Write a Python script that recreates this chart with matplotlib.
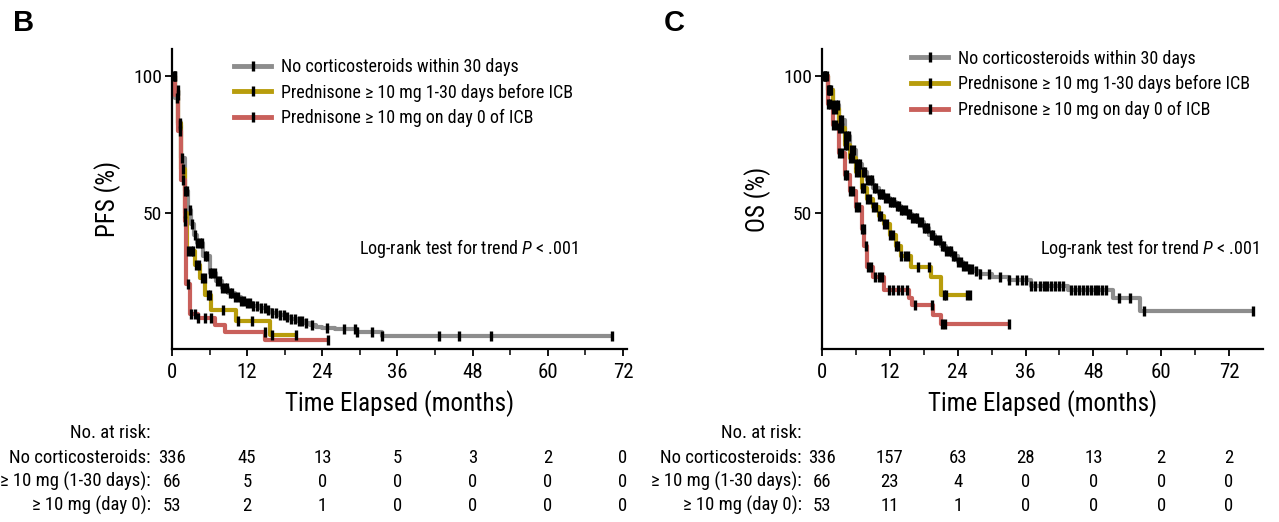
import numpy as np
import matplotlib
matplotlib.use("Agg")
import matplotlib.pyplot as plt
from matplotlib.lines import Line2D
from matplotlib.transforms import blended_transform_factory

FONT = ['Roboto Condensed', 'Liberation Sans Narrow', 'Roboto', 'DejaVu Sans']
plt.rcParams['font.family'] = FONT
plt.rcParams['mathtext.fontset'] = 'custom'
plt.rcParams['mathtext.rm'] = 'Roboto Condensed'
plt.rcParams['mathtext.it'] = 'Roboto Condensed:italic'

# ---- Kaplan-Meier step data (months, survival %) ----
# PFS
pfs_none_t = [0, 0.5, 1, 1.5, 2, 2.5, 3, 3.5, 4, 5, 6, 7, 8, 9, 10, 11, 12, 13, 14, 15, 16, 17,
              18, 19, 20, 21, 22, 23, 24, 26, 29.5, 33.6]
pfs_none_s = [100, 92, 82, 70, 58, 51, 46, 42, 39, 34, 28, 25, 22.5, 20.5, 19, 17.8, 16.8, 16,
              15.2, 14.3, 13.4, 12.6, 11.8, 11, 10.3, 9.6, 9, 8.2, 7.6, 7.4, 6.3, 5.0]
pfs_none_end = 70.2
pfs_none_cens = [0.3, 0.8, 1.2, 1.6, 2.0, 2.4, 2.8, 3.2, 3.6, 4.0, 4.4, 4.8, 5.2, 5.6, 6.0, 6.4,
                 6.8, 7.2, 7.6, 8.0, 8.4, 8.8, 9.2, 9.6, 10.0, 10.5, 11.0, 11.5, 12.0, 12.5, 13.0,
                 13.6, 14.2, 14.8, 15.4, 16.0, 16.6, 17.2, 17.8, 18.4, 19.0, 19.6, 20.2, 20.8,
                 21.4, 22.4, 24.8, 27.5, 29.2, 29.5, 32.0, 33.6, 42.6, 45.8, 51.0, 70.2]

pfs_pre_t = [0, 0.5, 1, 1.5, 2, 2.4, 3.7, 4.5, 5.3, 6.2, 10.2, 15.7]
pfs_pre_s = [100, 95, 83, 66, 50, 36, 31, 26, 20, 14.3, 10.4, 5.2]
pfs_pre_end = 19.8
pfs_pre_cens = [0.4, 0.9, 1.3, 1.7, 2.1, 2.6, 3.0, 3.4, 3.9, 4.3, 4.8, 5.2, 5.7, 6.1, 8.2,
                10.5, 12.8, 15.9, 19.8]

pfs_day0_t = [0, 0.5, 1, 1.5, 2, 2.2, 2.3, 2.9, 4.1, 6.9, 8.5, 14.9]
pfs_day0_s = [100, 93, 80, 62, 47, 33, 24, 13, 11.5, 8.8, 6.4, 3.3]
pfs_day0_end = 24.9
pfs_day0_cens = [0.4, 0.9, 1.3, 1.7, 2.1, 2.5, 3.0, 3.6, 4.2, 5.3, 6.3, 14.8, 24.9]

# OS
os_none_t = [0, 1, 2, 3, 4, 5, 6, 7, 8, 9, 10, 11, 12, 13, 14, 15, 16, 17, 18, 19, 20, 21, 22,
             23, 24, 25, 26, 27, 28, 30, 33, 37, 43.5, 51.5, 56.3]
os_none_s = [100, 95, 89.5, 84, 78, 73, 68, 65, 62, 59, 57, 55.5, 54, 52.5, 51, 49.5, 48, 46.5,
             44.5, 42, 40, 38, 36, 34, 32, 30.5, 29.5, 28.5, 27.5, 26.5, 25.4, 23.2, 21.7,
             18.6, 14.0]
os_none_end = 76.2
os_none_cens = [0.4, 0.8, 1.2, 1.6, 2.0, 2.4, 2.8, 3.2, 3.6, 4.0, 4.4, 4.8, 5.2, 5.6, 6.0, 6.4,
                6.8, 7.2, 7.6, 8.0, 8.4, 8.8, 9.2, 9.6, 10.0, 10.4, 10.8, 11.2, 11.6, 12.0, 12.4,
                12.8, 13.2, 13.6, 14.0, 14.4, 14.8, 15.2, 15.6, 16.0, 16.4, 16.8, 17.2, 17.6,
                18.0, 18.4, 18.8, 19.2, 19.6, 20.0, 20.4, 20.8, 21.2, 21.6, 22.0, 22.4, 22.8,
                23.2, 23.6, 24.0, 24.5, 25.0, 25.5, 26.0, 26.6, 27.3, 28.0, 29.5, 31.5, 33.0,
                34.5, 35.3, 36.0, 37.0, 37.6, 38.5, 39.2, 39.8, 40.5, 41.2, 41.9, 42.6, 44.0,
                44.7, 45.4, 46.1, 46.8, 47.5, 48.2, 48.8, 49.5, 50.2, 52.5, 54.5, 56.9, 76.2]

os_pre_t = [0, 1, 2, 3, 4, 5, 6, 7, 8, 9, 10, 11, 12, 13, 14, 15.7, 19.3, 21.1]
os_pre_s = [100, 95, 88, 81, 75, 70, 65, 59, 55, 52, 49, 46, 42, 38, 34, 30.3, 26.6, 19.9]
os_pre_end = 26.2
os_pre_cens = [0.5, 1.0, 1.5, 2.0, 2.5, 3.0, 3.5, 4.0, 4.5, 5.0, 5.5, 6.0, 6.5, 7.0, 7.5, 8.0,
               8.5, 9.0, 9.5, 10.0, 10.5, 11.0, 11.5, 12.0, 12.5, 13.0, 13.5, 14.0, 14.6, 15.2,
               17.0, 19.0, 21.5, 22.0, 25.6, 26.2]

os_day0_t = [0, 1, 2, 3, 4, 5, 6, 7, 7.5, 8, 9, 11, 15.3, 16, 19.7, 21.1]
os_day0_s = [100, 90, 82, 72, 64, 58, 52, 44, 38, 30.3, 26.6, 21.7, 18.6, 16.2, 12.5, 9.4]
os_day0_end = 33.1
os_day0_cens = [0.5, 1.0, 1.5, 2.0, 2.5, 3.0, 3.5, 4.0, 4.5, 5.0, 5.5, 6.0, 6.5, 7.0, 7.4, 7.8,
                8.2, 8.7, 9.3, 10.0, 10.6, 11.8, 12.6, 13.4, 14.2, 15.0, 16.4, 19.5, 21.2, 21.8,
                33.1]

# ---- numbers at risk ----
risk_times = [0, 12, 24, 36, 48, 60, 72]
risk_labels = ["No corticosteroids:", "\u2265 10 mg (1-30 days):", "\u2265 10 mg (day 0):"]
pfs_risk = [[336, 45, 13, 5, 3, 2, 0],
            [66, 5, 0, 0, 0, 0, 0],
            [53, 2, 1, 0, 0, 0, 0]]
os_risk = [[336, 157, 63, 28, 13, 2, 2],
           [66, 23, 4, 0, 0, 0, 0],
           [53, 11, 1, 0, 0, 0, 0]]

group_names = ["No corticosteroids within 30 days",
               "Prednisone \u2265 10 mg 1-30 days before ICB",
               "Prednisone \u2265 10 mg on day 0 of ICB"]
colors = ["#8d8d8d", "#b89d0c", "#c9605b"]


def km_curve(ax, t, s, end, cens, color):
    tt = list(t) + [end]
    ss = list(s) + [s[-1]]
    ax.step(tt, ss, where='post', color=color, lw=3, solid_capstyle='butt', zorder=2)
    idx = np.searchsorted(t, cens, side='right') - 1
    cy = np.array(s)[idx]
    ax.plot(cens, cy, ls='none', marker='|', color='black', ms=6.5, mew=2.4, zorder=3)


fig = plt.figure(figsize=(12.79, 5.22), dpi=100)
axB = fig.add_axes([0.1345, 0.331, 0.356, 0.575])
axC = fig.add_axes([0.6427, 0.331, 0.3448, 0.575])

panels = [
    dict(ax=axB, ylab="PFS (%)", xmax=72.7, letter="B", letter_x=0.010,
         curves=[(pfs_none_t, pfs_none_s, pfs_none_end, pfs_none_cens),
                 (pfs_pre_t, pfs_pre_s, pfs_pre_end, pfs_pre_cens),
                 (pfs_day0_t, pfs_day0_s, pfs_day0_end, pfs_day0_cens)],
         risk=pfs_risk, leg_x=0.183, leg_y=0.889, risk_x=0.118, lr_x=47.4),
    dict(ax=axC, ylab="OS (%)", xmax=78, letter="C", letter_x=0.519,
         curves=[(os_none_t, os_none_s, os_none_end, os_none_cens),
                 (os_pre_t, os_pre_s, os_pre_end, os_pre_cens),
                 (os_day0_t, os_day0_s, os_day0_end, os_day0_cens)],
         risk=os_risk, leg_x=0.7125, leg_y=0.905, risk_x=0.627, lr_x=58.0),
]

for p in panels:
    ax = p['ax']
    for (t, s, end, cens), c in zip(p['curves'], colors):
        km_curve(ax, t, s, end, cens, c)

    ax.set_xlim(0, p['xmax'])
    ax.set_ylim(0, 110)
    ax.set_xticks(risk_times)
    ax.set_xticks([m for m in [6, 18, 30, 42, 54, 66, 78] if m < p['xmax']], minor=True)
    ax.set_yticks([50, 100])
    for side in ["top", "right"]:
        ax.spines[side].set_visible(False)
    for side in ["left", "bottom"]:
        ax.spines[side].set_linewidth(1.6)
    ax.tick_params(axis='both', which='major', direction='out', length=5, width=1.3)
    ax.tick_params(axis='x', which='minor', direction='out', length=4, width=1.1)
    ax.tick_params(axis='x', labelsize=15, pad=5)
    ax.tick_params(axis='y', labelsize=14, pad=2)
    ax.set_ylabel(p['ylab'], fontsize=18, labelpad=9)
    ax.set_xlabel("Time Elapsed (months)", fontsize=18, labelpad=6)

    ax.text(p['lr_x'], 0.337, "Log-rank test for trend $\\mathit{P}$ < .001",
            transform=blended_transform_factory(ax.transData, ax.transAxes),
            ha='center', va='center', fontsize=13)

    handles = [Line2D([0], [0], color=c, lw=3.5, marker='|', mec='black', mew=2.4, ms=6.5)
               for c in colors]
    fig.legend(handles, group_names, loc='upper left', bbox_to_anchor=(p['leg_x'], p['leg_y']),
               frameon=False, fontsize=13, numpoints=1, handlelength=2.05,
               handletextpad=0.55, labelspacing=0.42, borderaxespad=0, borderpad=0)

    fig.text(p['letter_x'], 0.955, p['letter'], fontsize=21, fontweight='bold',
             family=['Liberation Sans', 'DejaVu Sans'], ha='left', va='center')

    # at-risk table under the x axis
    tr = blended_transform_factory(ax.transData, fig.transFigure)
    fig.text(p['risk_x'], 0.171, "No. at risk:", ha='right', va='center', fontsize=13.5)
    rows_y = [0.123, 0.077, 0.031]
    for lab, vals, yy in zip(risk_labels, p['risk'], rows_y):
        fig.text(p['risk_x'], yy, lab, ha='right', va='center', fontsize=13.5)
        for xt, v in zip(risk_times, vals):
            ax.text(xt, yy, str(v), transform=tr, ha='center', va='center', fontsize=13.5)

fig.savefig("out.png", dpi=100)
